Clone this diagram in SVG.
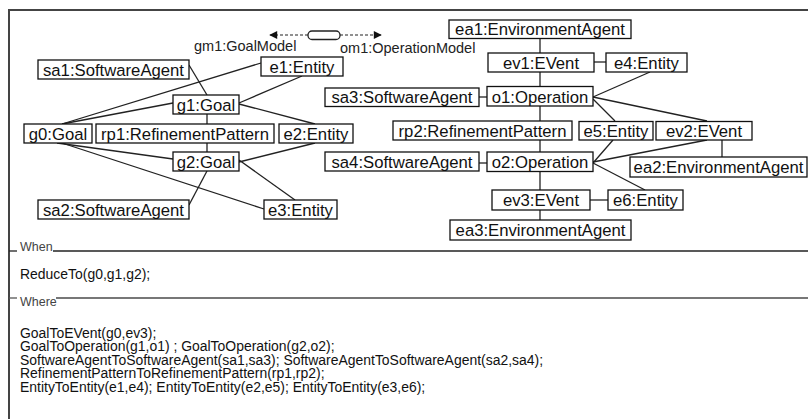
<svg xmlns="http://www.w3.org/2000/svg" width="808" height="419" viewBox="0 0 808 419">
  <style>
    .box { fill: #fff; stroke: #111; stroke-width: 1.3; }
    .lbl { font-family: "Liberation Sans", Arial, sans-serif; font-size: 16.7px; fill: #111; text-anchor: middle; }
    .edge { stroke: #222; stroke-width: 1.3; fill: none; }
    .dash { stroke: #222; stroke-width: 1.2; fill: none; stroke-dasharray: 3 2; }
    .small { font-family: "Liberation Sans", Arial, sans-serif; font-size: 14.5px; fill: #222; }
    .sect { font-family: "Liberation Sans", Arial, sans-serif; font-size: 12.5px; fill: #444; }
    .code { font-family: "Liberation Sans", Arial, sans-serif; font-size: 15.5px; fill: #111; }
  </style>
  <defs>
    <marker id="arrow" viewBox="0 0 10 10" refX="9" refY="5" markerWidth="9" markerHeight="8" markerUnits="userSpaceOnUse" orient="auto">
      <path d="M0,0 L10,5 L0,10 z" fill="#111"/>
    </marker>
  </defs>

  <rect width="808" height="419" fill="#fff"/>

  <!-- outer frame (open to the right and bottom) -->
  <path d="M9,419 V10 H808" fill="none" stroke="#444" stroke-width="2"/>

  <!-- section separators -->
  <g id="sections">
    <line x1="9" y1="251" x2="17" y2="251" stroke="#222" stroke-width="1.3"/>
    <text class="sect" x="20" y="251">When</text>
    <line x1="53" y1="251" x2="808" y2="251" stroke="#222" stroke-width="1.5"/>
    <line x1="9" y1="298" x2="17" y2="298" stroke="#555" stroke-width="1.3"/>
    <text class="sect" x="20" y="306">Where</text>
    <line x1="56" y1="298" x2="808" y2="298" stroke="#777" stroke-width="2"/>
  </g>

  <!-- connectors -->
  <g id="connectors">
    <!-- model header -->
    <line class="dash" x1="308" y1="35" x2="270" y2="35" marker-end="url(#arrow)"/>
    <line class="dash" x1="340" y1="35" x2="381" y2="35" marker-end="url(#arrow)"/>

    <!-- goal model -->
    <line class="edge" x1="189" y1="65" x2="207" y2="95"/>
    <line class="edge" x1="261" y1="63" x2="62" y2="124"/>
    <line class="edge" x1="173" y1="103" x2="62" y2="124"/>
    <line class="edge" x1="302" y1="76" x2="239" y2="103"/>
    <line class="edge" x1="239" y1="104" x2="315" y2="124"/>
    <line class="edge" x1="207" y1="114" x2="207" y2="124"/>
    <line class="edge" x1="207" y1="143" x2="207" y2="152"/>
    <line class="edge" x1="57" y1="143" x2="173" y2="159"/>
    <line class="edge" x1="62" y1="143" x2="264" y2="209"/>
    <line class="edge" x1="315" y1="143" x2="239" y2="162"/>
    <line class="edge" x1="239" y1="160" x2="295" y2="200"/>
    <line class="edge" x1="207" y1="171" x2="189" y2="205"/>

    <!-- operation model -->
    <line class="edge" x1="540" y1="38" x2="540" y2="53"/>
    <line class="edge" x1="594" y1="62" x2="606" y2="62"/>
    <line class="edge" x1="540" y1="72" x2="540" y2="86"/>
    <line class="edge" x1="479" y1="97" x2="487" y2="97"/>
    <line class="edge" x1="540" y1="106" x2="540" y2="121"/>
    <line class="edge" x1="540" y1="140" x2="540" y2="152"/>
    <line class="edge" x1="540" y1="171" x2="540" y2="190"/>
    <line class="edge" x1="540" y1="210" x2="540" y2="220"/>
    <line class="edge" x1="590" y1="200" x2="608" y2="200"/>
    <line class="edge" x1="479" y1="163" x2="487" y2="163"/>
    <line class="edge" x1="593" y1="97" x2="650" y2="72"/>
    <line class="edge" x1="593" y1="99" x2="615" y2="121"/>
    <line class="edge" x1="593" y1="97" x2="707" y2="121"/>
    <line class="edge" x1="613" y1="140" x2="593" y2="163"/>
    <line class="edge" x1="707" y1="140" x2="593" y2="162"/>
    <line class="edge" x1="722" y1="140" x2="722" y2="157"/>
    <line class="edge" x1="593" y1="163" x2="645" y2="190"/>
  </g>

  <!-- model header -->
  <g id="models">
    <rect x="308" y="31" width="32" height="8.5" rx="4" fill="#fff" stroke="#222" stroke-width="1.3"/>
    <text class="small" x="194" y="51">gm1:GoalModel</text>
    <text class="small" x="340" y="53">om1:OperationModel</text>
  </g>

  <!-- goal model nodes -->
  <g id="sa1"><rect class="box" x="38" y="60" width="151" height="19"/><text class="lbl" x="113.5" y="75.5">sa1:SoftwareAgent</text></g>
  <g id="e1"><rect class="box" x="261" y="57" width="82" height="19"/><text class="lbl" x="302" y="72.5">e1:Entity</text></g>
  <g id="g1"><rect class="box" x="173" y="95" width="66" height="19"/><text class="lbl" x="206" y="110.5">g1:Goal</text></g>
  <g id="g0"><rect class="box" x="24" y="124" width="68" height="19"/><text class="lbl" x="58" y="139.5">g0:Goal</text></g>
  <g id="rp1"><rect class="box" x="96" y="124" width="178" height="19"/><text class="lbl" x="185" y="139.5">rp1:RefinementPattern</text></g>
  <g id="e2"><rect class="box" x="279" y="124" width="74" height="19"/><text class="lbl" x="316" y="139.5">e2:Entity</text></g>
  <g id="g2"><rect class="box" x="173" y="152" width="66" height="19"/><text class="lbl" x="206" y="167.5">g2:Goal</text></g>
  <g id="sa2"><rect class="box" x="38" y="200" width="151" height="19"/><text class="lbl" x="113.5" y="215.5">sa2:SoftwareAgent</text></g>
  <g id="e3"><rect class="box" x="264" y="200" width="73" height="19"/><text class="lbl" x="300.5" y="215.5">e3:Entity</text></g>

  <!-- operation model nodes -->
  <g id="ea1"><rect class="box" x="449" y="20" width="182" height="18.5"/><text class="lbl" x="540" y="35">ea1:EnvironmentAgent</text></g>
  <g id="ev1"><rect class="box" x="488" y="53" width="106" height="19"/><text class="lbl" x="541" y="68.5">ev1:EVent</text></g>
  <g id="e4"><rect class="box" x="606" y="53" width="81" height="19"/><text class="lbl" x="646.5" y="68.5">e4:Entity</text></g>
  <g id="sa3"><rect class="box" x="325" y="88" width="154" height="18.5"/><text class="lbl" x="402" y="103">sa3:SoftwareAgent</text></g>
  <g id="o1"><rect class="box" x="487" y="86.5" width="106" height="19.5"/><text class="lbl" x="540" y="102.5">o1:Operation</text></g>
  <g id="rp2"><rect class="box" x="393" y="121" width="179" height="19"/><text class="lbl" x="482.5" y="136.5">rp2:RefinementPattern</text></g>
  <g id="e5"><rect class="box" x="579" y="121.5" width="74" height="18.5"/><text class="lbl" x="616" y="136.5">e5:Entity</text></g>
  <g id="ev2"><rect class="box" x="656" y="121.5" width="96" height="18.5"/><text class="lbl" x="704" y="136.5">ev2:EVent</text></g>
  <g id="sa4"><rect class="box" x="325" y="152" width="154" height="19"/><text class="lbl" x="402" y="167.5">sa4:SoftwareAgent</text></g>
  <g id="o2"><rect class="box" x="487" y="152" width="106" height="19.5"/><text class="lbl" x="540" y="168">o2:Operation</text></g>
  <g id="ea2"><rect class="box" x="630" y="157" width="177" height="20"/><text class="lbl" x="718.5" y="173">ea2:EnvironmentAgent</text></g>
  <g id="ev3"><rect class="box" x="492" y="190" width="98" height="20"/><text class="lbl" x="541" y="206">ev3:EVent</text></g>
  <g id="e6"><rect class="box" x="608" y="190" width="75" height="20"/><text class="lbl" x="645.5" y="206">e6:Entity</text></g>
  <g id="ea3"><rect class="box" x="450" y="220" width="181" height="20"/><text class="lbl" x="540.5" y="236">ea3:EnvironmentAgent</text></g>

  <!-- rule text, set in a slightly condensed face -->
  <g id="when-body" transform="translate(20,0) scale(0.9,1)">
    <text class="code" x="0" y="279">ReduceTo(g0,g1,g2);</text>
  </g>
  <g id="where-body" transform="translate(20,0) scale(0.9,1)">
    <text class="code" x="0" y="338">GoalToEVent(g0,ev3);</text>
    <text class="code" x="0" y="351.5">GoalToOperation(g1,o1) ; GoalToOperation(g2,o2);</text>
    <text class="code" x="0" y="365">SoftwareAgentToSoftwareAgent(sa1,sa3); SoftwareAgentToSoftwareAgent(sa2,sa4);</text>
    <text class="code" x="0" y="378.5">RefinementPatternToRefinementPattern(rp1,rp2);</text>
    <text class="code" x="0" y="392">EntityToEntity(e1,e4); EntityToEntity(e2,e5); EntityToEntity(e3,e6);</text>
  </g>
</svg>
